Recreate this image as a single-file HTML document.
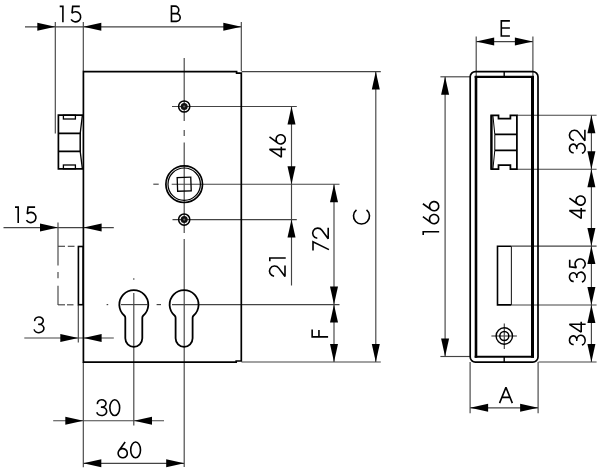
<!DOCTYPE html>
<html><head><meta charset="utf-8"><title>Lock case drawing</title>
<style>
html,body{margin:0;padding:0;background:#fff;}
body{width:600px;height:474px;overflow:hidden;font-family:"Liberation Sans",sans-serif;}
svg{display:block;position:absolute;left:0;top:0;}
.h{fill:#000;fill-opacity:0;stroke:none;font-family:"Liberation Sans",sans-serif;}
.t{fill:none;stroke:#000;stroke-width:1.6;stroke-linejoin:miter;stroke-miterlimit:2;stroke-linecap:butt;}
</style></head>
<body>
<svg width="600" height="474" viewBox="0 0 600 474" role="img" aria-label="Lock case dimension drawing: 15, B, C, 46, 72, 21, F, 3, 30, 60, E, 166, 32, 46, 35, 34, A">
<rect width="600" height="474" fill="#fff"/>
<line x1="55.3" y1="22" x2="55.3" y2="133.5" stroke="#444" stroke-width="1.15" />
<line x1="83.3" y1="22" x2="83.3" y2="71" stroke="#444" stroke-width="1.15" />
<line x1="241.3" y1="22" x2="241.3" y2="71" stroke="#444" stroke-width="1.15" />
<line x1="25" y1="26.8" x2="241.3" y2="26.8" stroke="#444" stroke-width="1.15" />
<polygon points="55.3,26.8 37.3,22.8 37.3,30.8" fill="#000"/>
<polygon points="83.3,26.8 101.3,22.8 101.3,30.8" fill="#000"/>
<polygon points="241.3,26.8 223.3,22.8 223.3,30.8" fill="#000"/>
<g class="t" transform="translate(56.20,6.40)"><path d="M3.5 0H6.7V15.95"/><g transform="translate(12.90,0)"><path d="M10.7 0H3.6L2.9 6.75A5.1 5.1 0 1 1 2.03 12.95"/></g></g>
<text class="h" x="69.1" y="21.6" text-anchor="middle" font-size="22">15</text>
<g class="t" transform="translate(170.70,6.15)"><path d="M0.75 7.5H4.35A3.75 3.75 0 0 0 4.35 0H0.75V15.2H5.65A3.85 3.85 0 0 0 5.65 7.5H4.35"/></g>
<text class="h" x="175.8" y="21.4" text-anchor="middle" font-size="22">B</text>
<line x1="241.5" y1="71.6" x2="380.8" y2="71.6" stroke="#444" stroke-width="1.15" />
<line x1="241.5" y1="362" x2="380.8" y2="362" stroke="#444" stroke-width="1.15" />
<line x1="375.8" y1="71.6" x2="375.8" y2="362" stroke="#444" stroke-width="1.15" />
<polygon points="375.8,71.6 371.8,89.6 379.8,89.6" fill="#000"/>
<polygon points="375.8,362 371.8,344.0 379.8,344.0" fill="#000"/>
<g class="t" transform="translate(361.5,216) rotate(-90) translate(-8.70,-7.6)"><path d="M14.92 2.57A8 8 0 1 0 14.92 12.63"/></g>
<text class="h" x="361.5" y="223.6" text-anchor="middle" font-size="22" transform="rotate(-90 361.5 216)">C</text>
<line x1="184.2" y1="58" x2="184.2" y2="121" stroke="#444" stroke-width="1.15" />
<line x1="184.2" y1="130" x2="184.2" y2="136" stroke="#444" stroke-width="1.15" />
<line x1="184.2" y1="142.5" x2="184.2" y2="233" stroke="#444" stroke-width="1.15" />
<line x1="184.2" y1="239" x2="184.2" y2="467" stroke="#444" stroke-width="1.15" />
<line x1="172" y1="106.5" x2="296.8" y2="106.5" stroke="#444" stroke-width="1.15" />
<line x1="153.3" y1="184.2" x2="158.7" y2="184.2" stroke="#444" stroke-width="1.15" />
<line x1="171.7" y1="184.2" x2="339.5" y2="184.2" stroke="#444" stroke-width="1.15" />
<line x1="172.5" y1="219.6" x2="296.8" y2="219.6" stroke="#444" stroke-width="1.15" />
<line x1="106.6" y1="304.6" x2="108.2" y2="304.6" stroke="#444" stroke-width="1.15" />
<line x1="121" y1="304.6" x2="147.4" y2="304.6" stroke="#444" stroke-width="1.15" />
<line x1="156.6" y1="304.6" x2="161" y2="304.6" stroke="#444" stroke-width="1.15" />
<line x1="172" y1="304.6" x2="339.5" y2="304.6" stroke="#444" stroke-width="1.15" />
<line x1="133.8" y1="278.2" x2="133.8" y2="279.8" stroke="#444" stroke-width="1.15" />
<line x1="133.8" y1="293" x2="133.8" y2="425.5" stroke="#444" stroke-width="1.15" />
<line x1="291.5" y1="106.5" x2="291.5" y2="285.5" stroke="#444" stroke-width="1.15" />
<polygon points="291.5,106.5 287.5,124.5 295.5,124.5" fill="#000"/>
<polygon points="291.5,184.2 287.5,166.2 295.5,166.2" fill="#000"/>
<polygon points="291.5,219.6 287.5,237.6 295.5,237.6" fill="#000"/>
<g class="t" transform="translate(277.4,145.8) rotate(-90) translate(-12.90,-7.6)"><path d="M9.3 15.95V-0.3L1.5 11.5H11.9"/><g transform="translate(12.90,0)"><path d="M8.9 -0.3L2.76 8.15A4.6 4.6 0 1 0 10.14 13.65A4.6 4.6 0 1 0 2.76 8.15"/></g></g>
<text class="h" x="277.4" y="153.4" text-anchor="middle" font-size="22" transform="rotate(-90 277.4 145.8)">46</text>
<g class="t" transform="translate(277.4,264.7) rotate(-90) translate(-12.90,-7.6)"><path d="M1.42 4.3A5.1 5.1 0 1 1 9.45 8.93L1.0 15.2H12.0"/><g transform="translate(12.90,0)"><path d="M3.5 0H6.7V15.95"/></g></g>
<text class="h" x="277.4" y="272.3" text-anchor="middle" font-size="22" transform="rotate(-90 277.4 264.7)">21</text>
<line x1="334" y1="184.2" x2="334" y2="362" stroke="#444" stroke-width="1.15" />
<polygon points="334,184.2 330.0,202.2 338.0,202.2" fill="#000"/>
<polygon points="334,304.6 330.0,286.6 338.0,286.6" fill="#000"/>
<polygon points="334,304.6 330.0,322.6 338.0,322.6" fill="#000"/>
<polygon points="334,362 330.0,344.0 338.0,344.0" fill="#000"/>
<g class="t" transform="translate(320.6,239.7) rotate(-90) translate(-12.90,-7.6)"><path d="M2.2 0H10.8L3.0 15.95"/><g transform="translate(12.90,0)"><path d="M1.42 4.3A5.1 5.1 0 1 1 9.45 8.93L1.0 15.2H12.0"/></g></g>
<text class="h" x="320.6" y="247.3" text-anchor="middle" font-size="22" transform="rotate(-90 320.6 239.7)">72</text>
<g class="t" transform="translate(319.75,333.4) rotate(-90) translate(-4.25,-7.6)"><path d="M8.25 0H0.75V15.95M0.75 6.8H7.75"/></g>
<text class="h" x="319.75" y="341.0" text-anchor="middle" font-size="22" transform="rotate(-90 319.75 333.4)">F</text>
<line x1="3.5" y1="227.6" x2="113.8" y2="227.6" stroke="#444" stroke-width="1.15" />
<polygon points="58,227.6 40.0,223.6 40.0,231.6" fill="#000"/>
<polygon points="83.6,227.6 101.6,223.6 101.6,231.6" fill="#000"/>
<g class="t" transform="translate(11.50,207.10)"><path d="M3.5 0H6.7V15.95"/><g transform="translate(12.90,0)"><path d="M10.7 0H3.6L2.9 6.75A5.1 5.1 0 1 1 2.03 12.95"/></g></g>
<text class="h" x="24.4" y="222.3" text-anchor="middle" font-size="22">15</text>
<line x1="58" y1="222.5" x2="58" y2="265.6" stroke="#444" stroke-width="1.15" />
<line x1="58" y1="272" x2="58" y2="278.3" stroke="#444" stroke-width="1.15" />
<line x1="58" y1="285.7" x2="58" y2="305" stroke="#444" stroke-width="1.15" />
<line x1="58" y1="246.3" x2="65" y2="246.3" stroke="#444" stroke-width="1.15" />
<line x1="67.8" y1="246.3" x2="74.5" y2="246.3" stroke="#444" stroke-width="1.15" />
<line x1="58" y1="304.8" x2="65" y2="304.8" stroke="#444" stroke-width="1.15" />
<line x1="67" y1="304.8" x2="73.5" y2="304.8" stroke="#444" stroke-width="1.15" />
<line x1="24.3" y1="338" x2="113.8" y2="338" stroke="#444" stroke-width="1.15" />
<polygon points="78.3,338 60.3,334.0 60.3,342.0" fill="#000"/>
<polygon points="83.6,338 101.6,334.0 101.6,342.0" fill="#000"/>
<g class="t" transform="translate(32.65,317.20)"><path d="M2.05 4.0A4.3 3.7 0 1 1 5.6 7.1A5 4.2 0 1 1 1.4 12.2"/></g>
<text class="h" x="39.1" y="332.4" text-anchor="middle" font-size="22">3</text>
<line x1="78.3" y1="305" x2="78.3" y2="342.5" stroke="#444" stroke-width="1.15" />
<line x1="83.3" y1="362" x2="83.3" y2="467.3" stroke="#444" stroke-width="1.15" />
<line x1="53.2" y1="420.7" x2="164" y2="420.7" stroke="#444" stroke-width="1.15" />
<polygon points="83.3,420.7 65.3,416.7 65.3,424.7" fill="#000"/>
<polygon points="134,420.7 152.0,416.7 152.0,424.7" fill="#000"/>
<g class="t" transform="translate(95.40,400.05)"><path d="M2.05 4.0A4.3 3.7 0 1 1 5.6 7.1A5 4.2 0 1 1 1.4 12.2"/><g transform="translate(12.90,0)"><ellipse cx="6.45" cy="7.6" rx="4.9" ry="7.9"/></g></g>
<text class="h" x="108.3" y="415.2" text-anchor="middle" font-size="22">30</text>
<line x1="83.3" y1="463.3" x2="184.2" y2="463.3" stroke="#444" stroke-width="1.15" />
<polygon points="83.3,463.3 101.3,459.3 101.3,467.3" fill="#000"/>
<polygon points="184.2,463.3 166.2,459.3 166.2,467.3" fill="#000"/>
<g class="t" transform="translate(116.25,442.30)"><path d="M8.9 -0.3L2.76 8.15A4.6 4.6 0 1 0 10.14 13.65A4.6 4.6 0 1 0 2.76 8.15"/><g transform="translate(12.90,0)"><ellipse cx="6.45" cy="7.6" rx="4.9" ry="7.9"/></g></g>
<text class="h" x="129.15" y="457.5" text-anchor="middle" font-size="22">60</text>
<path d="M83.4 71.7H236.6V73.1H241.3V361H236.2V362.1H83.4Z" fill="none" stroke="#000" stroke-width="1.7" stroke-linejoin="miter"/>
<g fill="none" stroke="#000" stroke-width="1.7"><path d="M83 115.2H58.4V168.8H83"/><path d="M58.4 133.3H80.9 M58.4 151.3H80.9"/><path d="M80.2 133.3V151.3" stroke-width="1.5"/><rect x="63.4" y="115.2" width="12" height="3.8" stroke-width="1.3"/><rect x="63.4" y="165" width="12" height="3.8" stroke-width="1.3"/><path d="M82.4 115.2L80.2 133.3M80.2 151.3L82.4 168.8" stroke-width="1.3"/></g>
<rect x="78.4" y="246.5" width="4.6" height="58.2" fill="#fff" stroke="#000" stroke-width="1.6"/>
<path d="M125.30 317.79 A3.0 3.0 0 0 0 124.27 315.53 A14.5 14.5 0 1 1 143.33 315.53 A3.0 3.0 0 0 0 142.30 317.79 V338.3 A8.5 8.5 0 0 1 125.30000000000001 338.3 Z" fill="none" stroke="#000" stroke-width="1.8"/>
<path d="M175.60 317.79 A3.0 3.0 0 0 0 174.57 315.53 A14.5 14.5 0 1 1 193.63 315.53 A3.0 3.0 0 0 0 192.60 317.79 V338.3 A8.5 8.5 0 0 1 175.6 338.3 Z" fill="none" stroke="#000" stroke-width="1.8"/>
<circle cx="184.2" cy="184.2" r="18.3" fill="none" stroke="#000" stroke-width="1.7"/>
<circle cx="184.2" cy="184.2" r="16.2" fill="none" stroke="#000" stroke-width="1.2"/>
<rect x="177.4" y="177.4" width="13.6" height="13.6" fill="none" stroke="#000" stroke-width="1.3" transform="rotate(-2 184.2 184.2)"/>
<circle cx="184.2" cy="106.5" r="5.6" fill="none" stroke="#000" stroke-width="1.5"/>
<circle cx="184.2" cy="106.5" r="3.5" fill="#111"/>
<circle cx="184.2" cy="106.5" r="1.1" fill="#666"/>
<circle cx="184.2" cy="219.6" r="5.6" fill="none" stroke="#000" stroke-width="1.5"/>
<circle cx="184.2" cy="219.6" r="3.5" fill="#111"/>
<circle cx="184.2" cy="219.6" r="1.1" fill="#666"/>
<line x1="476.2" y1="36.6" x2="476.2" y2="76" stroke="#444" stroke-width="1.15" />
<line x1="532.9" y1="36.6" x2="532.9" y2="76" stroke="#444" stroke-width="1.15" />
<line x1="476.2" y1="41.6" x2="532.9" y2="41.6" stroke="#444" stroke-width="1.15" />
<polygon points="476.2,41.6 494.2,37.6 494.2,45.6" fill="#000"/>
<polygon points="532.9,41.6 514.9,37.6 514.9,45.6" fill="#000"/>
<g class="t" transform="translate(500.55,20.85)"><path d="M9.35 0H0.75V15.2H9.35M0.75 7.1H9.35"/></g>
<text class="h" x="505.6" y="36.0" text-anchor="middle" font-size="22">E</text>
<line x1="440.4" y1="76.8" x2="470" y2="76.8" stroke="#444" stroke-width="1.15" />
<line x1="440.4" y1="356.5" x2="470" y2="356.5" stroke="#444" stroke-width="1.15" />
<line x1="445.1" y1="76.8" x2="445.1" y2="356.5" stroke="#444" stroke-width="1.15" />
<polygon points="445.1,76.8 441.1,94.8 449.1,94.8" fill="#000"/>
<polygon points="445.1,356.5 441.1,338.5 449.1,338.5" fill="#000"/>
<g class="t" transform="translate(430.8,219.1) rotate(-90) translate(-19.35,-7.6)"><path d="M3.5 0H6.7V15.95"/><g transform="translate(12.90,0)"><path d="M8.9 -0.3L2.76 8.15A4.6 4.6 0 1 0 10.14 13.65A4.6 4.6 0 1 0 2.76 8.15"/></g><g transform="translate(25.80,0)"><path d="M8.9 -0.3L2.76 8.15A4.6 4.6 0 1 0 10.14 13.65A4.6 4.6 0 1 0 2.76 8.15"/></g></g>
<text class="h" x="430.8" y="226.7" text-anchor="middle" font-size="22" transform="rotate(-90 430.8 219.1)">166</text>
<line x1="517" y1="115.2" x2="596.6" y2="115.2" stroke="#444" stroke-width="1.15" />
<line x1="517" y1="169.2" x2="596.6" y2="169.2" stroke="#444" stroke-width="1.15" />
<line x1="511.5" y1="246.1" x2="596.6" y2="246.1" stroke="#444" stroke-width="1.15" />
<line x1="511.5" y1="305" x2="596.6" y2="305" stroke="#444" stroke-width="1.15" />
<line x1="538.5" y1="362" x2="596.6" y2="362" stroke="#444" stroke-width="1.15" />
<line x1="591.4" y1="115.2" x2="591.4" y2="362" stroke="#444" stroke-width="1.15" />
<polygon points="591.4,115.2 587.4,133.2 595.4,133.2" fill="#000"/>
<polygon points="591.4,169.2 587.4,187.2 595.4,187.2" fill="#000"/>
<polygon points="591.4,246.1 587.4,264.1 595.4,264.1" fill="#000"/>
<polygon points="591.4,305 587.4,323.0 595.4,323.0" fill="#000"/>
<polygon points="591.4,169.2 587.4,151.2 595.4,151.2" fill="#000"/>
<polygon points="591.4,246.1 587.4,228.1 595.4,228.1" fill="#000"/>
<polygon points="591.4,305 587.4,287.0 595.4,287.0" fill="#000"/>
<polygon points="591.4,362 587.4,344.0 595.4,344.0" fill="#000"/>
<g class="t" transform="translate(577.3,141.85) rotate(-90) translate(-12.90,-7.6)"><path d="M2.05 4.0A4.3 3.7 0 1 1 5.6 7.1A5 4.2 0 1 1 1.4 12.2"/><g transform="translate(12.90,0)"><path d="M1.42 4.3A5.1 5.1 0 1 1 9.45 8.93L1.0 15.2H12.0"/></g></g>
<text class="h" x="577.3" y="149.4" text-anchor="middle" font-size="22" transform="rotate(-90 577.3 141.85)">32</text>
<g class="t" transform="translate(577.3,207) rotate(-90) translate(-12.90,-7.6)"><path d="M9.3 15.95V-0.3L1.5 11.5H11.9"/><g transform="translate(12.90,0)"><path d="M8.9 -0.3L2.76 8.15A4.6 4.6 0 1 0 10.14 13.65A4.6 4.6 0 1 0 2.76 8.15"/></g></g>
<text class="h" x="577.3" y="214.6" text-anchor="middle" font-size="22" transform="rotate(-90 577.3 207)">46</text>
<g class="t" transform="translate(577.3,270.5) rotate(-90) translate(-12.90,-7.6)"><path d="M2.05 4.0A4.3 3.7 0 1 1 5.6 7.1A5 4.2 0 1 1 1.4 12.2"/><g transform="translate(12.90,0)"><path d="M10.7 0H3.6L2.9 6.75A5.1 5.1 0 1 1 2.03 12.95"/></g></g>
<text class="h" x="577.3" y="278.1" text-anchor="middle" font-size="22" transform="rotate(-90 577.3 270.5)">35</text>
<g class="t" transform="translate(577.3,333.6) rotate(-90) translate(-12.90,-7.6)"><path d="M2.05 4.0A4.3 3.7 0 1 1 5.6 7.1A5 4.2 0 1 1 1.4 12.2"/><g transform="translate(12.90,0)"><path d="M9.3 15.95V-0.3L1.5 11.5H11.9"/></g></g>
<text class="h" x="577.3" y="341.2" text-anchor="middle" font-size="22" transform="rotate(-90 577.3 333.6)">34</text>
<line x1="470.1" y1="362" x2="470.1" y2="413.3" stroke="#444" stroke-width="1.15" />
<line x1="538.1" y1="362" x2="538.1" y2="413.3" stroke="#444" stroke-width="1.15" />
<line x1="470.1" y1="407.8" x2="538.1" y2="407.8" stroke="#444" stroke-width="1.15" />
<polygon points="470.1,407.8 488.1,403.8 488.1,411.8" fill="#000"/>
<polygon points="538.1,407.8 520.1,403.8 520.1,411.8" fill="#000"/>
<g class="t" transform="translate(498.75,387.40)"><path d="M0.8 15.7L7.2 0L13.6 15.7M3.12 10H11.28"/></g>
<text class="h" x="505.95" y="402.6" text-anchor="middle" font-size="22">A</text>
<rect x="470.2" y="71.6" width="67.8" height="290.5" rx="5.2" ry="5.2" fill="none" stroke="#000" stroke-width="1.7"/>
<line x1="474.7" y1="76.9" x2="534" y2="76.9" stroke="#000" stroke-width="2.1" />
<line x1="474.7" y1="356.8" x2="534" y2="356.8" stroke="#000" stroke-width="2.1" />
<line x1="476.0" y1="76" x2="476.0" y2="357.8" stroke="#000" stroke-width="2.6" />
<line x1="532.5" y1="76" x2="532.5" y2="357.8" stroke="#000" stroke-width="3.0" />
<line x1="504.2" y1="71.6" x2="504.2" y2="76.9" stroke="#000" stroke-width="1.4" />
<line x1="504.2" y1="356.8" x2="504.2" y2="362.1" stroke="#000" stroke-width="1.4" />
<g fill="none" stroke="#000" stroke-width="1.75"><path d="M491.2 115.3H498.5V118.7H510.4V115.3H516.9V169.1H510.4V165.2H498.5V169.1H491.2Z"/><path d="M491.6 115.3V169.1" stroke-width="2"/><path d="M494.8 134.3H516.9M494.8 150.3H516.9"/><path d="M492.9 115.3L494.8 134.3V150.3L492.9 169.1" stroke-width="1"/></g>
<path d="M511.4 246.2H497.5V304.9H511.4" fill="none" stroke="#000" stroke-width="1.6"/>
<line x1="511.4" y1="246.2" x2="511.4" y2="304.9" stroke="#222" stroke-width="1.1" />
<line x1="491.4" y1="336" x2="516.9" y2="336" stroke="#444" stroke-width="1.15" />
<line x1="504.3" y1="323.6" x2="504.3" y2="349" stroke="#444" stroke-width="1.15" />
<circle cx="504.3" cy="336" r="8.2" fill="none" stroke="#000" stroke-width="1.4"/>
<circle cx="504.3" cy="336" r="4.5" fill="none" stroke="#000" stroke-width="1.5"/>
</svg>
</body></html>
